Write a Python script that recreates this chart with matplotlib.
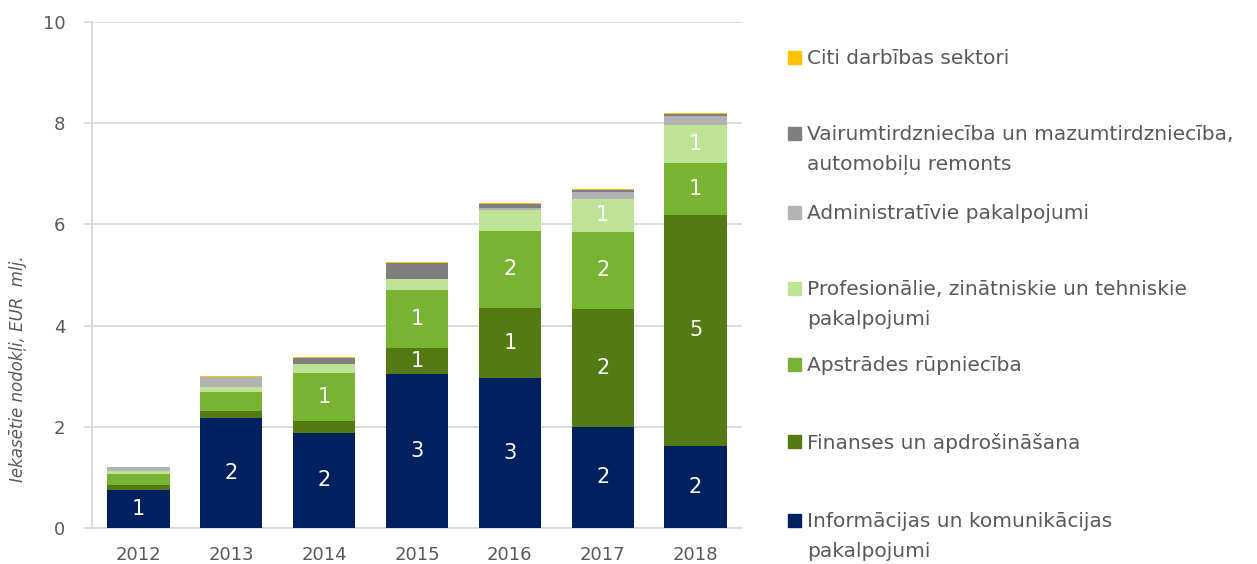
import matplotlib
matplotlib.use("Agg")

import matplotlib.pyplot as plt
from matplotlib.patches import Rectangle
import numpy as np

# data, EUR mlj. per sector and year
years = ["2012", "2013", "2014", "2015", "2016", "2017", "2018"]
ict = [0.75, 2.18, 1.88, 3.04, 2.97, 2.00, 1.63]
finance = [0.09, 0.13, 0.23, 0.51, 1.38, 2.33, 4.56]
manufacturing = [0.22, 0.37, 0.95, 1.16, 1.52, 1.52, 1.02]
professional = [0.06, 0.10, 0.18, 0.22, 0.42, 0.66, 0.75]
administrative = [0.08, 0.20, 0.00, 0.00, 0.03, 0.13, 0.18]
wholesale = [0.00, 0.00, 0.12, 0.31, 0.08, 0.04, 0.04]
others = [0.01, 0.02, 0.01, 0.01, 0.02, 0.02, 0.03]

series = [ict, finance, manufacturing, professional, administrative, wholesale, others]
names = [
    "Informācijas un komunikācijas\npakalpojumi",
    "Finanses un apdrošināšana",
    "Apstrādes rūpniecība",
    "Profesionālie, zinātniskie un tehniskie\npakalpojumi",
    "Administratīvie pakalpojumi",
    "Vairumtirdzniecība un mazumtirdzniecība,\nautomobiļu remonts",
    "Citi darbības sektori",
]
colors = ["#002060", "#547A14", "#78B432", "#BEE396", "#B3B3B3", "#7F7F7F", "#FFC000"]

text_col = "#595959"
grid_col = "#D9D9D9"

fig = plt.figure(figsize=(12.57, 5.64), dpi=100)
ax = fig.add_axes([92 / 1257, 1 - 528 / 564, 650 / 1257, 506 / 564])

x = np.arange(len(years))
bottom = np.zeros(len(years))
for vals, col in zip(series, colors):
    vals = np.array(vals)
    ax.bar(x, vals, width=0.67, bottom=bottom, color=col, zorder=3)
    # white integer labels on the bigger segments
    for xi, b, v in zip(x, bottom, vals):
        lab = int(v + 0.5)
        if lab >= 1:
            ax.text(xi, b + v / 2, str(lab), ha="center", va="center",
                    color="white", fontsize=15, zorder=4)
    bottom += vals

ax.set_xlim(-0.5, len(years) - 0.5)
ax.set_ylim(0, 10)
ax.set_yticks([0, 2, 4, 6, 8, 10])
ax.set_xticks(x)
ax.set_xticklabels(years)
ax.yaxis.grid(True, color=grid_col, linewidth=1.3, zorder=0)
ax.set_axisbelow(True)

for s in ["top", "right"]:
    ax.spines[s].set_visible(False)
for s in ["left", "bottom"]:
    ax.spines[s].set_color(grid_col)
    ax.spines[s].set_linewidth(1.3)

ax.tick_params(axis="y", colors=grid_col, length=6, width=1.3, pad=13,
               labelcolor=text_col, labelsize=13)
ax.tick_params(axis="x", length=0, pad=13, labelcolor=text_col, labelsize=13)

fig.text(18 / 1257, 1 - 369 / 564, "Iekasētie nodokļi, EUR  mlj.", rotation=90,
         ha="center", va="center", style="italic", fontsize=12, color=text_col)

# legend drawn by hand, top entry first
first_line = [520, 441, 364, 288, 212, 133, 57]
for name, col, yc in zip(names, colors, first_line):
    fig.patches.append(Rectangle((788 / 1257, 1 - (yc + 6.5) / 564), 13 / 1257, 13 / 564,
                                 transform=fig.transFigure, color=col))
    fig.text(807 / 1257, 1 - (yc - 8) / 564, name, ha="left", va="top",
             fontsize=14.5, color=text_col, linespacing=1.75)

fig.savefig("out.png", dpi=100)
